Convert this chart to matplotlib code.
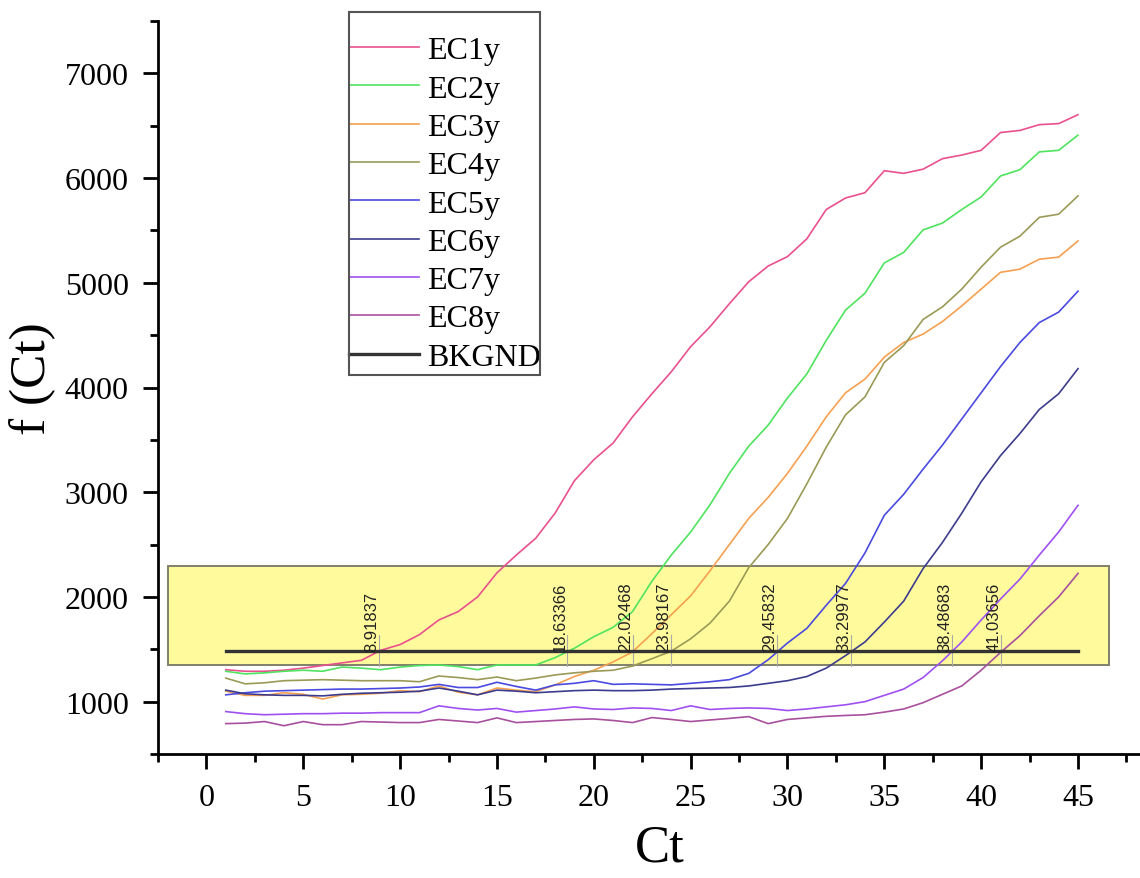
import matplotlib
matplotlib.use('Agg')
import matplotlib.pyplot as plt
from matplotlib.patches import Rectangle
from matplotlib.ticker import MultipleLocator
import numpy as np

cycles = np.arange(1, 46)

ec1 = [1305, 1290, 1290, 1300, 1320, 1345, 1370, 1395, 1490, 1545,
       1640, 1780, 1860, 2000, 2230, 2400, 2560, 2800, 3110, 3310,
       3470, 3720, 3940, 4150, 4390, 4580, 4800, 5010, 5160, 5250,
       5420, 5700, 5810, 5860, 6070, 6045, 6085, 6185, 6220, 6265,
       6435, 6455, 6510, 6520, 6605]
ec2 = [1290, 1265, 1275, 1290, 1300, 1290, 1330, 1320, 1305, 1330,
       1345, 1350, 1335, 1305, 1350, 1350, 1350, 1420, 1510, 1620,
       1710, 1860, 2150, 2400, 2620, 2880, 3180, 3440, 3640, 3900,
       4130, 4450, 4740, 4900, 5190, 5290, 5505, 5570, 5700, 5820,
       6020, 6080, 6250, 6265, 6410]
ec3 = [1100, 1060, 1060, 1085, 1070, 1025, 1065, 1070, 1080, 1105,
       1095, 1150, 1090, 1065, 1130, 1110, 1095, 1160, 1240, 1300,
       1380, 1475, 1650, 1830, 2010, 2250, 2500, 2750, 2950, 3180,
       3440, 3720, 3950, 4080, 4290, 4430, 4510, 4630, 4780, 4940,
       5100, 5130, 5225, 5245, 5400]
ec4 = [1225, 1170, 1180, 1200, 1205, 1210, 1205, 1200, 1200, 1200,
       1190, 1245, 1230, 1210, 1235, 1200, 1225, 1255, 1275, 1290,
       1300, 1340, 1410, 1482, 1600, 1750, 1960, 2280, 2500, 2750,
       3080, 3430, 3740, 3910, 4240, 4400, 4650, 4770, 4940, 5150,
       5340, 5445, 5625, 5655, 5830]
ec5 = [1065, 1085, 1100, 1105, 1110, 1115, 1120, 1120, 1125, 1130,
       1140, 1165, 1135, 1135, 1185, 1145, 1110, 1160, 1175, 1200,
       1165, 1170, 1165, 1160, 1175, 1190, 1210, 1270, 1400, 1560,
       1700, 1920, 2130, 2420, 2780, 2980, 3220, 3450, 3700, 3950,
       4200, 4430, 4620, 4720, 4920]
ec6 = [1110, 1075, 1065, 1060, 1060, 1055, 1070, 1080, 1085, 1090,
       1100, 1130, 1100, 1065, 1110, 1100, 1085, 1095, 1105, 1110,
       1105, 1105, 1110, 1120, 1125, 1130, 1135, 1150, 1175, 1200,
       1240, 1320, 1440, 1570, 1760, 1960, 2270, 2520, 2800, 3100,
       3350, 3560, 3790, 3940, 4180]
ec7 = [905, 885, 875, 880, 885, 885, 890, 890, 895, 895,
       895, 960, 935, 920, 935, 900, 915, 930, 950, 930,
       925, 940, 935, 915, 960, 925, 935, 940, 935, 915,
       930, 950, 970, 1000, 1060, 1120, 1230, 1390, 1570, 1780,
       1980, 2170, 2400, 2620, 2875]
ec8 = [790, 795, 810, 770, 810, 780, 780, 810, 805, 800,
       800, 830, 815, 800, 845, 800, 810, 820, 830, 835,
       820, 800, 848, 830, 810, 825, 840, 857, 790, 830,
       845, 860, 868, 875, 900, 930, 990, 1070, 1150, 1300,
       1470, 1630, 1820, 2000, 2225]

names = ['EC1y', 'EC2y', 'EC3y', 'EC4y', 'EC5y', 'EC6y', 'EC7y', 'EC8y']
colors = ['#E9508E', '#4FE35E', '#F5A050', '#9A9A56',
          '#4A4AE0', '#3C3C8E', '#A050F0', '#A8509E']

threshold = 1480
ct_values = [8.91837, 18.63366, 22.02468, 23.98167,
             29.45832, 33.29977, 38.48683, 41.03656]

serif = ['Liberation Serif', 'DejaVu Serif']
sans = ['Liberation Sans', 'DejaVu Sans']

fig = plt.figure(figsize=(11.4, 8.79), dpi=100)
ax = fig.add_axes([158/1140, 1-755/879, 1-158/1140, (755-22)/879])

# yellow threshold box
ax.add_patch(Rectangle((-2.0, 1350), 48.6, 950, facecolor='#FFFB9C',
                       edgecolor='#80806A', lw=1.4, zorder=1))

series = [ec1, ec2, ec3, ec4, ec5, ec6, ec7, ec8]
for vals, name, col in zip(series, names, colors):
    ax.plot(cycles, vals, color=col, lw=1.2, label=name, zorder=3)

ax.plot([cycles[0], cycles[-1]], [threshold, threshold], color='#333333',
        lw=2.4, label='BKGND', zorder=4)

for ct in ct_values:
    ax.plot([ct, ct], [1340, 1640], color='#AAAAAA', lw=0.8, zorder=2)
    ax.text(ct, threshold, f'{ct:.5f}', rotation=90, ha='right', va='bottom',
            fontsize=12, family=sans, color='#222222', zorder=5)

ax.set_xlim(-2.5, 48.2)
ax.set_ylim(500, 7500)
ax.xaxis.set_major_locator(MultipleLocator(5))
ax.xaxis.set_minor_locator(MultipleLocator(2.5))
ax.yaxis.set_major_locator(MultipleLocator(1000))
ax.yaxis.set_minor_locator(MultipleLocator(500))
ax.set_xticks(np.arange(0, 50, 5))
ax.set_yticks(np.arange(1000, 7001, 1000))

for s in ['top', 'right']:
    ax.spines[s].set_visible(False)
for s in ['left', 'bottom']:
    ax.spines[s].set_linewidth(2)

ax.tick_params(which='major', direction='out', length=11, width=2,
               labelsize=23, pad=10)
ax.tick_params(which='minor', direction='out', length=6, width=2)
for lab in ax.get_xticklabels() + ax.get_yticklabels():
    lab.set_family(serif)

fig.text(33/1140, 1-379/879, 'f (Ct)', rotation=90, ha='center', va='center',
         fontsize=37, family=serif)
fig.text(660/1140, 1-849/879, 'Ct', ha='center', va='center',
         fontsize=38, family=serif)

leg = ax.legend(loc='upper left', bbox_to_anchor=(349/1140, 1-37/879),
                bbox_transform=fig.transFigure, frameon=False,
                prop={'family': serif, 'size': 23}, borderpad=0,
                borderaxespad=0, handlelength=2.2, handletextpad=0.25,
                labelspacing=0.28)
fig.patches.append(Rectangle((349/1140, 1-376/879), 191/1140, 363/879,
                             transform=fig.transFigure, fill=False,
                             edgecolor='#555555', lw=1.5))

fig.savefig('out.png', dpi=100)
